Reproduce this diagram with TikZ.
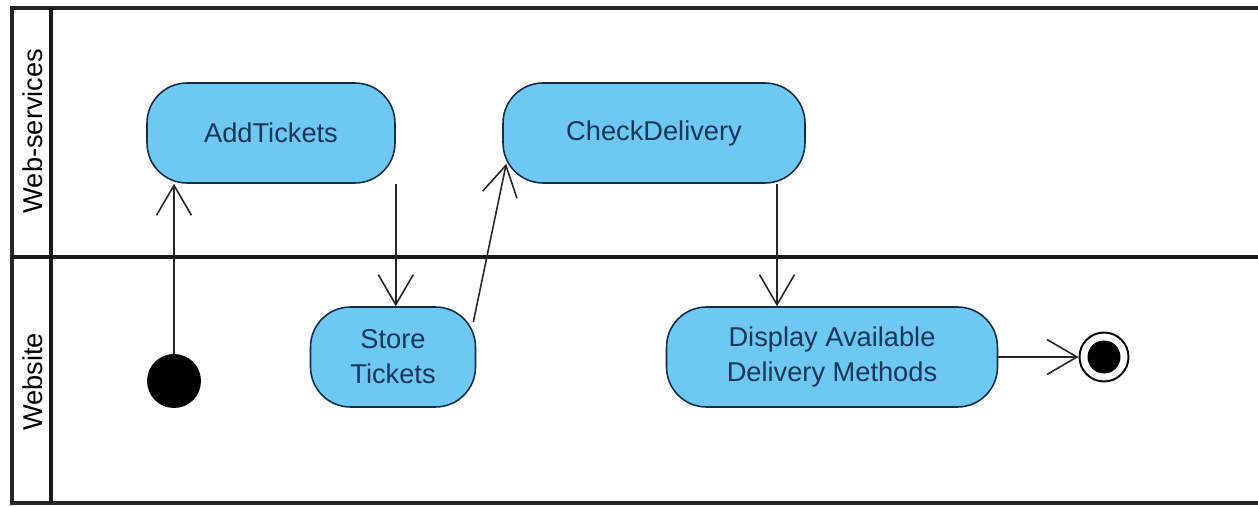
\documentclass[tikz,border=0pt]{standalone}
\usepackage{fontspec}
\setmainfont{Liberation Sans}
\usetikzlibrary{arrows.meta,calc}
\definecolor{actfill}{RGB}{110,200,242}
\definecolor{actline}{RGB}{20,45,70}
\definecolor{acttext}{RGB}{25,55,90}
\begin{document}
\begin{tikzpicture}[x=0.02cm,y=-0.02cm,
  act/.style={draw=actline, line width=0.9pt, fill=actfill, rounded corners=0.8cm,
    minimum height=2cm, inner sep=0pt, align=center, text=acttext,
    font=\fontsize{15.5}{20}\selectfont},
  flow/.style={draw=black!85, line width=0.9pt,
    -{Straight Barb[length=0.6cm,width=0.7cm,line width=0.9pt]}},
  lanelabel/.style={rotate=90, font=\fontsize{15.5}{18}\selectfont},
  frame/.style={line width=2pt, black!85},
  divider/.style={line width=2.8pt, black!90}]
\useasboundingbox (0,0) rectangle (1258,507);

% swimlane frame
\draw[frame] (1262,8) -- (12,8) -- (12,503) -- (1262,503);
\draw[divider] (51,8) -- (51,503);
\draw[divider] (12,257) -- (1262,257);
\node[lanelabel] (laneA) at (33,131) {Web-services};
\node[lanelabel] (laneB) at (33,382) {Website};

% activities
\node[act, minimum width=4.96cm] (add) at (271,133) {AddTickets};
\node[act, minimum width=6.04cm] (check) at (654,133) {CheckDelivery};
\node[act, minimum width=3.3cm] (store) at (393,357) {Store\\Tickets};
\node[act, minimum width=6.62cm] (disp) at (832,357) {Display Available\\Delivery Methods};

% initial and final nodes
\node[circle, fill=black, minimum size=1.08cm, inner sep=0pt] (init) at (174,381) {};
\node[circle, draw=black, line width=1.1pt, fill=white, minimum size=0.98cm, inner sep=0pt] (final) at (1104,357) {};
\fill[black] (final.center) circle (0.33cm);

% control flows
\draw[flow] (init.north) -- (init.north |- add.south);
\draw[flow] (add.south east) -- (add.south east |- store.north);
\coordinate (storeOut) at ($(store.north east)+(-3,16)$);
\coordinate (checkIn) at ($(check.south west)+(4,-20)$);
\draw[flow] (storeOut) -- (checkIn);
\coordinate (checkOut) at ($(check.south)+(123,0)$);
\draw[flow] (checkOut) -- (checkOut |- disp.north);
\draw[flow] (disp.east) -- (final.west);
\end{tikzpicture}
\end{document}
